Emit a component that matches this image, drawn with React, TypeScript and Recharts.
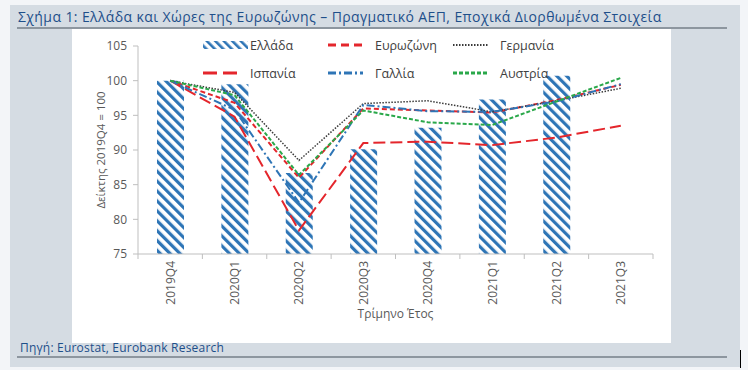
import React from 'react';
import { ComposedChart, Bar, Line, XAxis, YAxis } from 'recharts';

const categories = ['2019Q4', '2020Q1', '2020Q2', '2020Q3', '2020Q4', '2021Q1', '2021Q2', '2021Q3'];
const greece = [100, 99.5, 86.7, 90.1, 93.2, 97.3, 100.7, null];
const eurozone = [100, 96.8, 86.0, 96.0, 95.7, 95.4, 97.2, 99.4];
const germany = [100, 98.3, 88.5, 96.7, 97.1, 95.5, 97.1, 98.9];
const spain = [100, 94.8, 78.4, 91.0, 91.2, 90.7, 91.8, 93.5];
const france = [100, 95.8, 82.4, 96.5, 95.6, 95.5, 97.0, 99.5];
const austria = [100, 97.9, 86.4, 95.7, 94.0, 93.6, 97.0, 100.4];
const yTicks = [75, 80, 85, 90, 95, 100, 105];

const data = categories.map((c, i) => ({
  cat: c,
  greece: greece[i],
  eurozone: eurozone[i],
  germany: germany[i],
  spain: spain[i],
  france: france[i],
  austria: austria[i],
}));

const FONT = "'Open Sans', sans-serif";
const BLUE = '#2e75b6';
const RED = '#e4262c';
const GREEN = '#2aa84a';
const DARK = '#3a3a3a';
const AXIS = '#bfbfbf';
const TXT = '#595959';

const lineSeries = [
  { key: 'eurozone', name: 'Ευρωζώνη', color: RED, dash: '5 3', width: 2 },
  { key: 'germany', name: 'Γερμανία', color: DARK, dash: '1.5 1.5', width: 1.5 },
  { key: 'spain', name: 'Ισπανία', color: RED, dash: '12 5', width: 2 },
  { key: 'france', name: 'Γαλλία', color: BLUE, dash: '8 3 2 3', width: 2 },
  { key: 'austria', name: 'Αυστρία', color: GREEN, dash: '4 2', width: 2 },
];

const CHART_W = 599;
const CHART_H = 314;
const MARGIN = { top: 17, right: 18, left: 0, bottom: 0 };
const Y_W = 66;
const X_H = 89;
const BAND = (CHART_W - MARGIN.right - Y_W) / categories.length;

const XTick = (props: any) => {
  const { x, y, payload, index } = props;
  const ay = y - 6;
  return (
    <g>
      <line x1={x - BAND / 2} x2={x - BAND / 2} y1={ay} y2={ay + 5} stroke={AXIS} strokeWidth={1} />
      {index === categories.length - 1 && (
        <line x1={x + BAND / 2} x2={x + BAND / 2} y1={ay} y2={ay + 5} stroke={AXIS} strokeWidth={1} />
      )}
      <text
        x={x}
        y={ay + 7}
        transform={`rotate(-90 ${x} ${ay + 7})`}
        textAnchor="end"
        dominantBaseline="central"
        fill={TXT}
        fontSize={12}
        fontFamily={FONT}
      >
        {payload.value}
      </text>
    </g>
  );
};

const legendItems = [
  { name: 'Ελλάδα', kind: 'bar' },
  { name: 'Ευρωζώνη', kind: 'line', s: lineSeries[0] },
  { name: 'Γερμανία', kind: 'line', s: lineSeries[1] },
  { name: 'Ισπανία', kind: 'line', s: lineSeries[2] },
  { name: 'Γαλλία', kind: 'line', s: lineSeries[3] },
  { name: 'Αυστρία', kind: 'line', s: lineSeries[4] },
];

const LegendIcon = ({ item }: any) => {
  if (item.kind === 'bar') {
    return (
      <svg width={45} height={12} style={{ display: 'block' }}>
        <rect x={0} y={2} width={45} height={8} fill="url(#hatchLeg)" />
      </svg>
    );
  }
  const s = item.s;
  const len = s.key === 'spain' ? 37 : 35;
  return (
    <svg width={45} height={12} style={{ display: 'block' }}>
      <line x1={0} x2={len} y1={6} y2={6} stroke={s.color} strokeWidth={s.key === 'germany' ? 2 : 3} strokeDasharray={s.key === 'spain' ? '14 6' : s.key === 'eurozone' ? '8 5' : s.dash} />
    </svg>
  );
};

export default function App() {
  return (
    <div style={{ position: 'absolute', left: 0, top: 0, width: 748, height: 370, background: '#f3f5f8', overflow: 'hidden', fontFamily: FONT }}>
      <svg width={0} height={0} style={{ position: 'absolute' }}>
        <defs>
          <pattern id="hatch" width={7} height={7} patternUnits="userSpaceOnUse" patternTransform="rotate(-45)">
            <rect x={0} y={0} width={7} height={7} fill="#ffffff" />
            <rect x={0} y={0} width={3.2} height={7} fill={BLUE} />
          </pattern>
          <pattern id="hatchLeg" width={6} height={6} patternUnits="userSpaceOnUse" patternTransform="rotate(-45)">
            <rect x={0} y={0} width={6} height={6} fill="#ffffff" />
            <rect x={0} y={0} width={2.6} height={6} fill={BLUE} />
          </pattern>
        </defs>
      </svg>
      <div style={{ position: 'absolute', left: 10, top: 5, width: 730, height: 362, background: '#d5dce3' }} />
      <div style={{ position: 'absolute', left: 18, top: 7, fontSize: 14, letterSpacing: 0.4, color: '#1e4f8a', whiteSpace: 'nowrap', lineHeight: '20px' }}>
        Σχήμα 1: Ελλάδα και Χώρες της Ευρωζώνης – Πραγματικό ΑΕΠ, Εποχικά Διορθωμένα Στοιχεία
      </div>
      <div style={{ position: 'absolute', left: 17, top: 27, width: 710, height: 2, background: '#8d969f' }} />
      <div style={{ position: 'absolute', left: 72, top: 29, width: CHART_W, height: CHART_H, background: '#ffffff' }}>
        <ComposedChart width={CHART_W} height={CHART_H} data={data} margin={MARGIN}>
          <XAxis
            dataKey="cat"
            height={X_H}
            interval={0}
            tickLine={false}
            tickSize={0}
            tickMargin={6}
            stroke={AXIS}
            tick={<XTick />}
            label={{
              content: (p: any) => {
                const vb = p.viewBox;
                return (
                  <text x={vb.x + vb.width / 2} y={vb.y + 59} textAnchor="middle" dominantBaseline="central" fill={TXT} fontSize={12} fontFamily={FONT}>
                    Τρίμηνο Έτος
                  </text>
                );
              },
            }}
          />
          <YAxis
            width={Y_W}
            domain={[75, 105]}
            ticks={yTicks}
            interval={0}
            tickSize={5}
            tickMargin={6}
            stroke={AXIS}
            tick={{ fill: TXT, fontSize: 12, fontFamily: FONT }}
            label={{
              content: (p: any) => {
                const vb = p.viewBox;
                const cx = vb.x + 28;
                const cy = vb.y + vb.height / 2;
                return (
                  <text x={cx} y={cy} transform={`rotate(-90 ${cx} ${cy})`} textAnchor="middle" dominantBaseline="central" fill={TXT} fontSize={11.5} fontFamily={FONT}>
                    Δείκτης 2019Q4 = 100
                  </text>
                );
              },
            }}
          />
          <Bar dataKey="greece" name="Ελλάδα" fill="url(#hatch)" barSize={27} isAnimationActive={false} />
          {lineSeries.map((s) => (
            <Line
              key={s.key}
              type="linear"
              dataKey={s.key}
              name={s.name}
              stroke={s.color}
              strokeWidth={s.width}
              strokeDasharray={s.dash}
              dot={false}
              activeDot={false}
              isAnimationActive={false}
            />
          ))}
        </ComposedChart>
        <div style={{ position: 'absolute', left: 131, top: 2, width: 400, display: 'grid', gridTemplateColumns: '125px 125px 125px', gridAutoRows: '28px' }}>
          {legendItems.map((it) => (
            <div key={it.name} style={{ display: 'flex', alignItems: 'center', height: 28 }}>
              <div style={{ width: 47 }}>
                <LegendIcon item={it} />
              </div>
              <span style={{ fontSize: 12.5, color: '#404040', whiteSpace: 'nowrap' }}>{it.name}</span>
            </div>
          ))}
        </div>
      </div>
      <div style={{ position: 'absolute', left: 20, top: 340, fontSize: 12, letterSpacing: 0.2, color: '#1e4f8a', whiteSpace: 'nowrap', lineHeight: '16px' }}>
        Πηγή: Eurostat, Eurobank Research
      </div>
      <div style={{ position: 'absolute', left: 17, top: 356, width: 710, height: 2, background: '#8d969f' }} />
      <div style={{ position: 'absolute', left: 740, top: 350, width: 1, height: 18, background: '#000000' }} />
    </div>
  );
}
